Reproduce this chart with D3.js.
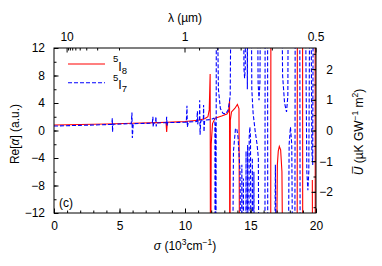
<!DOCTYPE html>
<html><head><meta charset="utf-8">
<script src="https://cdn.jsdelivr.net/npm/d3@7"></script>
<style>
body{margin:0;background:#fff;}
text{font-family:"Liberation Sans",Arial,sans-serif;fill:#000;}
</style></head>
<body><svg id="c" width="382" height="266"></svg>
<script>
// ---- data: [sigma (10^3 cm^-1), Re[alpha]] ; null = break ----
const i8Points = [
  [0,0.8],[2,0.88],[4,0.95],[6,1.05],[8,1.15],[8.55,1.2],[8.6,-0.2],[8.65,1.2],
  [9,1.22],[10,1.3],[11,1.5],[11.5,1.7],[11.75,2.0],[11.85,3.0],[11.92,8.2],[11.95,-30],
  [12.0,-2],[12.1,1.0],[12.3,1.8],[12.8,2.1],[13.2,2.4],[13.33,2.8],[13.4,4.3],[13.42,-30],
  [13.46,1.5],[13.55,2.7],[13.8,3.2],[14.0,3.8],[14.12,3.2],[14.18,-30],
  null,[16.54,-30],[16.56,30],
  null,[16.95,-30],[17.05,-5],[17.12,-3],[17.2,-2.3],[17.3,-2.8],[17.4,-6],[17.5,-30],
  null,[18.56,-30],[18.58,30],
  null,[18.97,30],[18.99,-30],
  null,[19.72,-7.2],[19.75,-30],
  null,[19.93,30],[19.95,-30]
];
const i7Points = [
  [0,0.65],[2,0.75],[4,0.85],[4.42,0.9],[4.45,1.8],[4.47,-0.2],[4.5,0.9],
  [5.9,1.0],[5.95,2.6],[5.98,-1.1],[6.05,1.0],
  [7.5,1.05],[7.55,2.0],[7.57,0.5],[7.6,1.05],[7.75,1.1],[7.78,2.0],[7.8,0.6],[7.85,1.1],
  [8.57,1.15],[8.6,2.0],[8.63,0.7],[8.66,1.15],
  [10.1,1.2],[10.15,3.6],[10.18,0.5],[10.25,1.25],
  [10.9,1.3],[10.95,2.8],[10.97,0.9],[11.0,1.35],[11.1,1.4],[11.12,4.4],[11.15,-0.6],[11.2,1.4],
  [11.4,1.45],[11.42,3.7],[11.45,-0.2],[11.5,1.5],[12.0,1.6],[12.2,1.8],[12.28,1.5],[12.3,-30],
  [12.33,1.0],[12.36,-30],[12.4,30],[12.55,6],[12.7,3.2],[12.9,2.5],[13.1,2.4],[13.3,3.0],[13.45,5],[13.55,30],
  null,[13.6,-30],[13.7,-3],[13.85,0.2],[13.95,0.3],[14.05,-1],[14.2,-6],[14.3,-30],
  [14.34,-5],[14.38,-30],
  null,[14.42,-30],[14.46,-7],[14.5,-30],
  null,[14.45,30],[14.5,9],[14.55,7.6],[14.6,9],[14.65,30],
  null,[14.62,-30],[14.66,-3],[14.7,-30],
  null,[14.72,30],[14.76,6],[14.8,30],
  null,[14.74,-30],[14.78,-2.1],[14.82,-30],
  null,[14.86,-30],[14.9,-1],[14.95,0.5],[15.0,-1],[15.04,-30],
  null,[15.1,-30],[15.14,-4],[15.18,-30],
  null,[15.22,-30],[15.26,-6],[15.3,-30],
  null,[15.03,30],[15.1,6],[15.2,2.5],[15.35,0],[15.5,-2],[15.6,-4],[15.65,-30],
  null,[15.5,30],[15.58,7],[15.65,4.4],[15.72,7],[15.8,30],
  null,[16.1,-30],[16.12,30],
  null,[16.3,30],[16.32,-30],
  null,[16.8,-30],[16.9,-5],[17.0,-30],
  null,[17.35,30],[17.45,8],[17.6,4],[17.75,2.7],[17.85,5],[17.9,30],
  null,[17.85,-30],[17.95,-2],[18.05,0.5],[18.15,-2],[18.25,-30],
  null,[18.38,-30],[18.42,30],
  null,[18.75,30],[18.8,-30],
  null,[19.15,30],[19.3,-6],[19.38,-8.7],[19.45,-6],[19.55,30],
  null,[19.6,30],[19.68,-3],[19.75,-5],[19.8,30]
];
const xTicksMajor = [0,5,10,15,20];
const yTicksMajor = [-12,-8,-4,0,4,8,12];
const y2TicksMajor = [-2,-1,0,1,2];
const lambdaMajor = [10,1,0.5];
const lambdaMinor = [9,8,7,6,5,4,3,2,0.9,0.8,0.7,0.6];
const seriesLabels = [{sup:"5",main:"I",sub:"8"},{sup:"5",main:"I",sub:"7"}];

const L=54,R=316,T=48,B=213;
const svg=d3.select("#c");
const x=d3.scaleLinear([0,20],[L,R]);
const y=d3.scaleLinear([-12,12],[B,T]);
const y2=d3.scaleLinear([-2.69,2.69],[B,T]);

svg.append("clipPath").attr("id","clip").append("rect")
  .attr("x",L).attr("y",T).attr("width",R-L).attr("height",B-T);

const line=d3.line().defined(d=>d!==null).x(d=>x(d[0])).y(d=>y(d[1]));
const g=svg.append("g").attr("clip-path","url(#clip)");
g.append("path").datum(i8Points).attr("d",line).attr("fill","none")
  .attr("stroke","#ff0000").attr("stroke-width",1.1);
g.append("path").datum(i7Points).attr("d",line).attr("fill","none")
  .attr("stroke","#0000ff").attr("stroke-width",1.1).attr("stroke-dasharray","4,2");

// axes
function styleAxis(sel){sel.select(".domain").remove();
  sel.selectAll("text").style("font-size","12px").style("font-family","Liberation Sans, Arial, sans-serif");
  sel.selectAll("line").attr("stroke","#000");}
svg.append("g").attr("transform",`translate(0,${B})`)
  .call(d3.axisBottom(x).tickValues(d3.range(0,21,1)).tickSize(-2.5).tickFormat(""))
  .call(styleAxis);
svg.append("g").attr("transform",`translate(0,${B})`)
  .call(d3.axisBottom(x).tickValues(xTicksMajor).tickSize(-4.5).tickPadding(8.5).tickFormat(d3.format("d")))
  .call(styleAxis);
svg.append("g").attr("transform",`translate(${L},0)`)
  .call(d3.axisLeft(y).tickValues(d3.range(-12,13,2)).tickSize(-2.5).tickFormat(""))
  .call(styleAxis);
svg.append("g").attr("transform",`translate(${L},0)`)
  .call(d3.axisLeft(y).tickValues(yTicksMajor).tickSize(-4.5).tickPadding(9).tickFormat(d3.format("d")))
  .call(styleAxis);
svg.append("g").attr("transform",`translate(${R},0)`)
  .call(d3.axisRight(y2).tickValues(d3.range(-2.5,2.6,0.5)).tickSize(-2.5).tickFormat(""))
  .call(styleAxis);
const ax2=svg.append("g").attr("transform",`translate(${R},0)`)
  .call(d3.axisRight(y2).tickValues(y2TicksMajor).tickSize(-4.5).tickFormat(d3.format("d")))
  .call(styleAxis);
ax2.selectAll("text").attr("text-anchor","end").attr("x",17);
// top lambda axis
const gt=svg.append("g");
gt.selectAll("line.mj").data(lambdaMajor).join("line")
  .attr("x1",d=>x(10/d)).attr("x2",d=>x(10/d)).attr("y1",T).attr("y2",T+4.5).attr("stroke","#000");
gt.selectAll("line.mn").data(lambdaMinor).join("line").attr("class","mn")
  .attr("x1",d=>x(10/d)).attr("x2",d=>x(10/d)).attr("y1",T).attr("y2",T+2.5).attr("stroke","#000");
gt.selectAll("text").data(lambdaMajor).join("text")
  .attr("x",d=>x(10/d)).attr("y",41).attr("text-anchor","middle").style("font-size","12px")
  .text(d=>d);
// frame
svg.append("rect").attr("x",L).attr("y",T).attr("width",R-L).attr("height",B-T)
  .attr("fill","none").attr("stroke","#000").attr("stroke-width",1);

// titles
svg.append("text").attr("x",185).attr("y",22).attr("text-anchor","middle").style("font-size","12px").text("λ (µm)");
const xt=svg.append("text").attr("x",185).attr("y",250).attr("text-anchor","middle").style("font-size","12px");
xt.append("tspan").style("font-style","italic").text("σ");
xt.append("tspan").text(" (10");
xt.append("tspan").attr("dy",-5).style("font-size","8.5px").text("3");
xt.append("tspan").attr("dy",5).text("cm");
xt.append("tspan").attr("dy",-5).style("font-size","8.5px").text("−1");
xt.append("tspan").attr("dy",5).text(")");
const yt=svg.append("text").attr("transform","translate(19,134) rotate(-90)").attr("text-anchor","middle").style("font-size","12px");
yt.append("tspan").text("Re[");
yt.append("tspan").style("font-style","italic").text("α");
yt.append("tspan").text("] (a.u.)");
const y2t=svg.append("text").attr("transform","translate(363,132) rotate(-90)").attr("text-anchor","middle").style("font-size","12px");
y2t.append("tspan").style("font-style","italic").text("U\u0305");
y2t.append("tspan").text(" (µK GW");
y2t.append("tspan").attr("dy",-5).style("font-size","8.5px").text("−1");
y2t.append("tspan").attr("dy",5).text(" m");
y2t.append("tspan").attr("dy",-5).style("font-size","8.5px").text("2");
y2t.append("tspan").attr("dy",5).text(")");
svg.append("text").attr("x",59).attr("y",207).style("font-size","12px").text("(c)");

// legend
const legY=[64,82.7];
const legStyles=[{c:"#ff0000",d:null},{c:"#0000ff",d:"4,2"}];
seriesLabels.forEach((s,i)=>{
  svg.append("line").attr("x1",68).attr("x2",105).attr("y1",legY[i]).attr("y2",legY[i])
    .attr("stroke",legStyles[i].c).attr("stroke-width",1.1).attr("stroke-dasharray",legStyles[i].d);
  const t=svg.append("text").attr("x",113).attr("y",legY[i]-2).style("font-size","9.5px");
  t.append("tspan").text(s.sup);
  t.append("tspan").attr("dy",8.5).style("font-size","12.5px").text(s.main);
  t.append("tspan").attr("dy",3).text(s.sub);
});
</script></body></html>
